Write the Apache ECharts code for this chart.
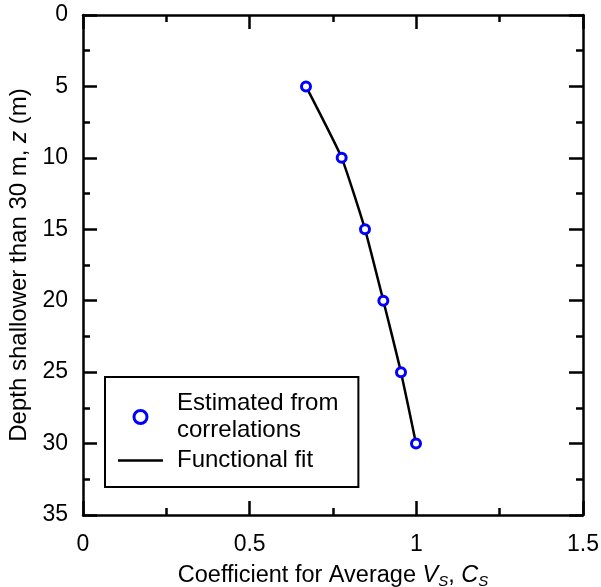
<!DOCTYPE html>
<html>
<head>
<meta charset="utf-8">
<script src="https://cdn.jsdelivr.net/npm/echarts@6/dist/echarts.min.js"></script>
<style>html,body{margin:0;padding:0;background:#fff}#c{width:601px;height:587px}</style>
</head>
<body>
<div id="c"></div>
<script>
// Data
var depths = [5, 10, 15, 20, 25, 30];
var estCoef = [0.669, 0.776, 0.846, 0.901, 0.954, 0.999];
var fitDepths = [5, 10, 15, 20, 25, 30];
var fitCoef = [0.669, 0.776, 0.846, 0.901, 0.954, 0.999];
var xTicks = [0, 0.5, 1, 1.5];
var yTicks = [0, 5, 10, 15, 20, 25, 30, 35];
var seriesNames = ['Estimated from\ncorrelations', 'Functional fit'];

var FONT = '"Liberation Sans", Arial, Helvetica, sans-serif';
var chart = echarts.init(document.getElementById('c'), null, {renderer: 'canvas'});

function pairs(xs, ys) { return xs.map(function (x, i) { return [x, ys[i]]; }); }

var axisLineStyle = {color: '#000', width: 2.5};
function xAx(pos, show) {
  return {
    type: 'value', position: pos, min: 0, max: 1.5, interval: 0.5,
    axisLine: {show: true, onZero: false, lineStyle: axisLineStyle},
    axisTick: {show: true, inside: true, length: 14, lineStyle: {color: '#000', width: 2.5}},
    minorTick: {show: true, splitNumber: 2, length: 7, lineStyle: {color: '#000', width: 2.5}},
    splitLine: {show: false},
    axisLabel: {show: show, margin: 18, color: '#000', fontSize: 23, fontFamily: FONT,
      formatter: function (v) { return String(v); }}
  };
}
function yAx(pos, show) {
  return {
    type: 'value', position: pos, min: 0, max: 35, interval: 5, inverse: true,
    axisLine: {show: true, onZero: false, lineStyle: axisLineStyle},
    axisTick: {show: true, inside: true, length: 14, lineStyle: {color: '#000', width: 2.5}},
    minorTick: {show: true, splitNumber: 2, length: 7, lineStyle: {color: '#000', width: 2.5}},
    splitLine: {show: false},
    axisLabel: {show: show, margin: 15, color: '#000', fontSize: 23, fontFamily: FONT}
  };
}

var xMain = xAx('bottom', true);
xMain.name = '{n|Coefficient for Average }{i|V}{s|S}{n|, }{i|C}{s|S}';
xMain.nameLocation = 'middle';
xMain.nameGap = 47;
xMain.nameTextStyle = {
  color: '#000', fontSize: 23.5, fontFamily: FONT,
  rich: {
    n: {fontSize: 23.5, fontFamily: FONT, color: '#000'},
    i: {fontSize: 23.5, fontFamily: FONT, fontStyle: 'italic', color: '#000'},
    s: {fontSize: 15, fontFamily: FONT, fontStyle: 'italic', color: '#000', verticalAlign: 'bottom', padding: [12, 0, 0, 0]}
  }
};
var yMain = yAx('left', true);
yMain.name = '{n|Depth shallower than 30 m, }{i|z}{n| (m)}';
yMain.nameLocation = 'middle';
yMain.nameGap = 40;
yMain.nameRotate = 90;
yMain.nameTextStyle = {
  color: '#000', fontSize: 24, fontFamily: FONT,
  rich: {
    n: {fontSize: 24, fontFamily: FONT, color: '#000'},
    i: {fontSize: 24, fontFamily: FONT, fontStyle: 'italic', color: '#000'}
  }
};

chart.setOption({
  animation: false,
  backgroundColor: '#fff',
  textStyle: {fontFamily: FONT},
  grid: {left: 83, top: 15, right: 18, bottom: 72, containLabel: false, outerBoundsMode: 'none'},
  xAxis: [xMain, xAx('top', false)],
  yAxis: [yMain, yAx('right', false)],
  legend: {
    orient: 'vertical',
    left: 105, top: 377,
    padding: [13, 20, 13, 13],
    itemGap: 3,
    itemWidth: 45, itemHeight: 13,
    symbolKeepAspect: true,
    borderColor: '#000', borderWidth: 2, backgroundColor: '#fff',
    textStyle: {color: '#000', fontSize: 24, fontFamily: FONT, lineHeight: 27, padding: [0, 0, 0, 9]},
    data: [
      {name: seriesNames[0], icon: 'circle',
       itemStyle: {color: '#fff', borderColor: '#0000ff', borderWidth: 3}},
      {name: seriesNames[1], icon: 'path://M0,0 L45,0 L45,2.5 L0,2.5 Z',
       itemStyle: {color: '#000', borderWidth: 0}}
    ]
  },
  series: [
    {
      name: seriesNames[1], type: 'line', xAxisIndex: 0, yAxisIndex: 0,
      data: pairs(fitCoef, fitDepths), symbol: 'none', smooth: 0.15,
      lineStyle: {color: '#000', width: 2.5}, itemStyle: {color: '#000'}, z: 2
    },
    {
      name: seriesNames[0], type: 'scatter', xAxisIndex: 0, yAxisIndex: 0,
      data: pairs(estCoef, depths), symbol: 'circle', symbolSize: 9,
      itemStyle: {color: '#fff', borderColor: '#0000ff', borderWidth: 3, opacity: 1}, z: 3
    }
  ]
});
</script>
</body>
</html>
